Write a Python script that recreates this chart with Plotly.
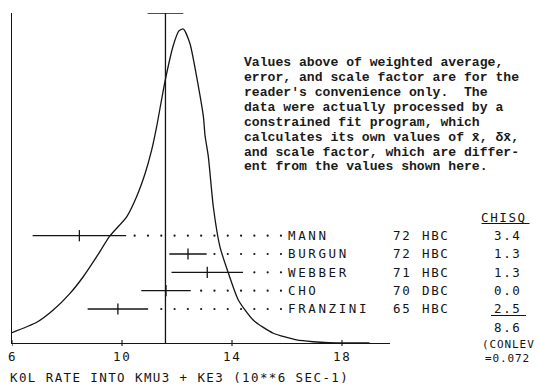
import plotly.graph_objects as go

# ---- measurements (listed top row first) ----
experiments = ["MANN", "BURGUN", "WEBBER", "CHO", "FRANZINI"]
years = ["72", "72", "71", "70", "65"]
techniques = ["HBC", "HBC", "HBC", "DBC", "HBC"]
rates = [8.45, 12.4, 13.1, 11.6, 9.85]
errors = [1.7, 0.68, 1.3, 0.9, 1.1]
chisq = ["3.4", "1.3", "1.3", "0.0", "2.5"]
chisq_total = "8.6"
conf_level = ["(CONLEV", "=0.072"]

# weighted average and its scaled error
weighted_mean = 11.58
weighted_error = 0.65

# ideogram (relative height, peak = 1)
curve_x = [6.00, 6.90, 7.50, 8.11, 8.59, 9.08, 9.56, 10.17, 10.53, 10.84,
           11.08, 11.26, 11.56, 11.87, 12.07, 12.23, 12.47, 12.78, 12.96,
           13.02, 13.14, 13.32, 13.56, 13.87, 14.23, 14.77, 15.50, 16.35,
           16.95, 17.50, 19.00]
curve_y = [0.033, 0.066, 0.105, 0.158, 0.211, 0.275, 0.341, 0.402, 0.466,
           0.540, 0.615, 0.689, 0.832, 0.949, 0.994, 1.000, 0.954, 0.816,
           0.721, 0.660, 0.593, 0.434, 0.307, 0.222, 0.137, 0.073, 0.031,
           0.010, 0.004, 0.001, 0.000]

tick_values = [6, 10, 14, 18]
tick_labels = ["6", "10", "14", "18"]
x_title = "K0L RATE INTO KMU3 + KE3 (10**6 SEC-1)"

note_lines = [
    "Values above of weighted average,",
    "error, and scale factor are for the",
    "reader's convenience only.\u00a0 The",
    "data were actually processed by a",
    "constrained fit program, which",
    "calculates its own values of x\u0304, \u03b4x\u0304,",
    "and scale factor, which are differ-",
    "ent from the values shown here.",
]

# ---- geometry ----
W, H = 537, 386
ML, MR, MT, MB = 12, 147, 13, 43
X_RANGE = [6, 19.745]
Y_TOP = 1.051
ROW_RANGE = [-1.855, 16.15]
DOT_END, DOT_STEP = 15.78, 0.4836

INK = "#141414"
PLOT_FONT = "DejaVu Sans Mono"
TYPE_FONT = "Liberation Mono"

PW, PH = W - ML - MR, H - MT - MB


def px(xp):
    return (xp - ML) / PW


def py(yp):
    return (H - MB - yp) / PH


def spaced(text, ls):
    return '<span style="letter-spacing:%spx">%s</span>' % (ls, text)


n = len(experiments)
rows = [n - 1 - i for i in range(n)]

fig = go.Figure()

# ideogram curve
fig.add_trace(go.Scatter(x=curve_x, y=curve_y, mode="lines",
                         line=dict(color=INK, width=1.3, shape="spline",
                                   smoothing=0.6),
                         hoverinfo="skip"))

# weighted mean line and error bar at the top
fig.add_trace(go.Scatter(x=[weighted_mean, weighted_mean], y=[0, Y_TOP],
                         mode="lines", line=dict(color=INK, width=1.3),
                         cliponaxis=False))
fig.add_trace(go.Scatter(x=[weighted_mean - weighted_error, weighted_mean + weighted_error],
                         y=[Y_TOP, Y_TOP], mode="lines",
                         line=dict(color=INK, width=1.3), cliponaxis=False))

# dotted leaders from each error bar to its label
dot_x, dot_y = [], []
for r, v, e in zip(rows, rates, errors):
    k = 0
    while True:
        xv = DOT_END - k * DOT_STEP
        if xv <= v + e + 0.2:
            break
        dot_x.append(xv)
        dot_y.append(r)
        k += 1
fig.add_trace(go.Scatter(x=dot_x, y=dot_y, yaxis="y2", mode="markers",
                         marker=dict(color=INK, size=2.2), cliponaxis=False))

# individual measurements
fig.add_trace(go.Scatter(
    x=rates, y=rows, yaxis="y2", mode="markers",
    marker=dict(symbol="line-ns-open", size=8, color=INK,
                line=dict(color=INK, width=1.3)),
    error_x=dict(type="data", array=errors, visible=True, width=0,
                 thickness=1.3, color=INK),
    cliponaxis=False))

ann = []
row_px = [235.7, 253.9, 272.2, 290.5, 308.8]
for i in range(n):
    yp = row_px[i]
    ann.append(dict(x=px(286), y=py(yp), text=spaced(experiments[i], 2.6),
                    xanchor="left"))
    ann.append(dict(x=px(391), y=py(yp), text=spaced(years[i], 1.6),
                    xanchor="left"))
    ann.append(dict(x=px(420), y=py(yp), text=spaced(techniques[i], 1.6),
                    xanchor="left"))
    ann.append(dict(x=px(523), y=py(yp), text=spaced(chisq[i], 1.6),
                    xanchor="right"))

ann.append(dict(x=px(529), y=py(217), text=spaced("CHISQ", 1.6), xanchor="right"))
ann.append(dict(x=px(523), y=py(327.5), text=spaced(chisq_total, 1.6), xanchor="right"))
ann.append(dict(x=px(8), y=py(378), text=spaced(x_title, 1.4), xanchor="left"))

for k, (xt, lab) in enumerate(zip(tick_values, tick_labels)):
    xp = ML + (xt - X_RANGE[0]) / (X_RANGE[1] - X_RANGE[0]) * PW
    ann.append(dict(x=px(xp), y=py(356), text=spaced(lab, 1.6), xanchor="center"))

for a in ann:
    a.update(xref="paper", yref="paper", yanchor="middle", showarrow=False,
             font=dict(family=PLOT_FONT, size=12.5, color=INK))

# confidence level, two tight lines
for txt, xl, yl in [(conf_level[0], 480, 344.3), (conf_level[1], 483, 358.8)]:
    ann.append(dict(x=px(xl), y=py(yl), text=spaced(txt, 0.9), xref="paper",
                    yref="paper", xanchor="left", yanchor="middle",
                    showarrow=False,
                    font=dict(family=PLOT_FONT, size=11, color=INK)))

for j, line in enumerate(note_lines):
    ann.append(dict(x=px(242), y=py(63 + j * 14.85), xref="paper", yref="paper",
                    xanchor="left", yanchor="middle", showarrow=False,
                    text="<b>" + line + "</b>",
                    font=dict(family=TYPE_FONT, size=13.1, color="#1a1a1a")))

shapes = [
    dict(type="line", xref="paper", yref="paper", x0=px(481.5), x1=px(529.5),
         y0=py(223.5), y1=py(223.5), line=dict(color=INK, width=1.1)),
    dict(type="line", xref="paper", yref="paper", x0=px(491), x1=px(526),
         y0=py(315.5), y1=py(315.5), line=dict(color=INK, width=1.1)),
]

fig.update_layout(
    width=W, height=H,
    margin=dict(l=ML, r=MR, t=MT, b=MB, pad=0),
    paper_bgcolor="white", plot_bgcolor="white",
    showlegend=False,
    annotations=ann, shapes=shapes,
    xaxis=dict(range=X_RANGE, showgrid=False, zeroline=False, showline=True,
               linecolor=INK, linewidth=1.3, ticks="", showticklabels=False,
               tickvals=tick_values),
    yaxis=dict(range=[0, Y_TOP], showgrid=False, zeroline=False, showline=True,
               linecolor=INK, linewidth=1.3, ticks="", showticklabels=False),
    yaxis2=dict(range=ROW_RANGE, overlaying="y", visible=False),
)

# small tick marks on the rate axis
for xt in tick_values:
    fig.add_shape(type="line", xref="x", yref="paper", x0=xt, x1=xt,
                  y0=-3 / PH, y1=3 / PH, line=dict(color=INK, width=1.1))

fig.write_html("out.html")
